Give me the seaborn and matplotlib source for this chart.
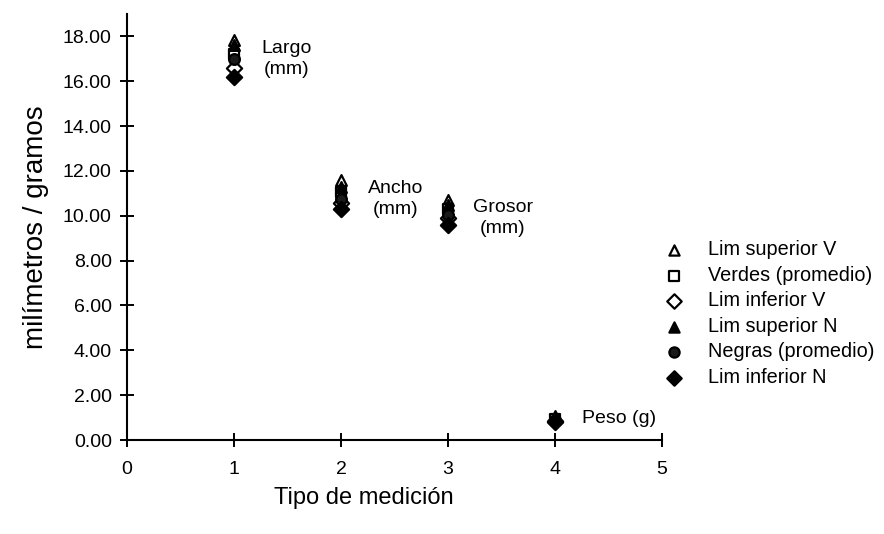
import matplotlib
matplotlib.use("Agg")
import matplotlib.pyplot as plt
import seaborn as sns
import pandas as pd
from matplotlib.ticker import FixedLocator, FuncFormatter

sns.set_style("white")
plt.rcParams["font.family"] = ["Liberation Sans", "DejaVu Sans"]
plt.rcParams["text.color"] = "black"
plt.rcParams["axes.labelcolor"] = "black"

# Measurement type positions on the x axis
tipos = [1, 2, 3, 4]
etiquetas = ["Largo\n(mm)", "Ancho\n(mm)", "Grosor\n(mm)", "Peso (g)"]

# Values for each series (mm for Largo/Ancho/Grosor, g for Peso)
lim_sup_v = [17.85, 11.60, 10.70, 1.05]
verdes = [17.20, 11.05, 10.30, 0.95]
lim_inf_v = [16.60, 10.55, 9.90, 0.85]
lim_sup_n = [17.60, 11.30, 10.50, 1.00]
negras = [17.00, 10.75, 10.05, 0.90]
lim_inf_n = [16.20, 10.30, 9.60, 0.80]

series = [
    ("Lim superior V", lim_sup_v, "^", "white"),
    ("Verdes (promedio)", verdes, "s", "white"),
    ("Lim inferior V", lim_inf_v, "D", "white"),
    ("Lim superior N", lim_sup_n, "^", "black"),
    ("Negras (promedio)", negras, "o", "#1a1a1a"),
    ("Lim inferior N", lim_inf_n, "D", "black"),
]

rows = []
for nombre, vals, _, _ in series:
    for x, v in zip(tipos, vals):
        rows.append({"tipo": x, "valor": v, "serie": nombre})
df = pd.DataFrame(rows)

fig = plt.figure(figsize=(8.84, 5.34), dpi=100)
ax = fig.add_axes([0.1437, 0.176, 0.6052, 0.798])

for nombre, _, marcador, relleno in series:
    sub = df[df["serie"] == nombre]
    sns.scatterplot(
        data=sub, x="tipo", y="valor", marker=marcador, s=60,
        facecolor=relleno, edgecolor="black", linewidth=1.6,
        label=nombre, ax=ax, zorder=3,
    )

ax.set_xlim(0, 5)
ax.set_ylim(0, 19)
ax.xaxis.set_major_locator(FixedLocator([0, 1, 2, 3, 4, 5]))
ax.yaxis.set_major_locator(FixedLocator([0, 2, 4, 6, 8, 10, 12, 14, 16, 18]))
ax.yaxis.set_major_formatter(FuncFormatter(lambda v, p: f"{v:.2f}"))

for s in ["top", "right"]:
    ax.spines[s].set_visible(False)
for s in ["left", "bottom"]:
    ax.spines[s].set_color("black")
    ax.spines[s].set_linewidth(1.5)

ax.tick_params(axis="both", bottom=True, left=True, direction="inout",
               length=10, width=1.4, color="black", labelsize=14,
               labelcolor="black")
ax.tick_params(axis="x", pad=10)
ax.tick_params(axis="y", pad=6)

ax.set_xlabel("Tipo de medición", fontsize=17)
ax.xaxis.set_label_coords(0.443, -0.11)
ax.set_ylabel("milímetros / gramos", fontsize=20, labelpad=10)

# Labels next to each group of points
posiciones = [(1.26, 17.0), (2.25, 10.73), (3.23, 9.88), (4.25, 0.94)]
for lab, (x, y) in zip(etiquetas, posiciones):
    ax.text(x, y, lab, fontsize=14, ha="left", va="center",
            multialignment="center", linespacing=1.3)

leg = ax.legend(loc="upper left", bbox_to_anchor=(0.74, 0.565),
                bbox_transform=fig.transFigure, frameon=False,
                fontsize=14.3, handletextpad=1.1, labelspacing=0.33,
                markerscale=0.95, borderaxespad=0, handlelength=1.2)
for t in leg.get_texts():
    t.set_color("black")

fig.savefig("out.png", dpi=100, facecolor="white")
